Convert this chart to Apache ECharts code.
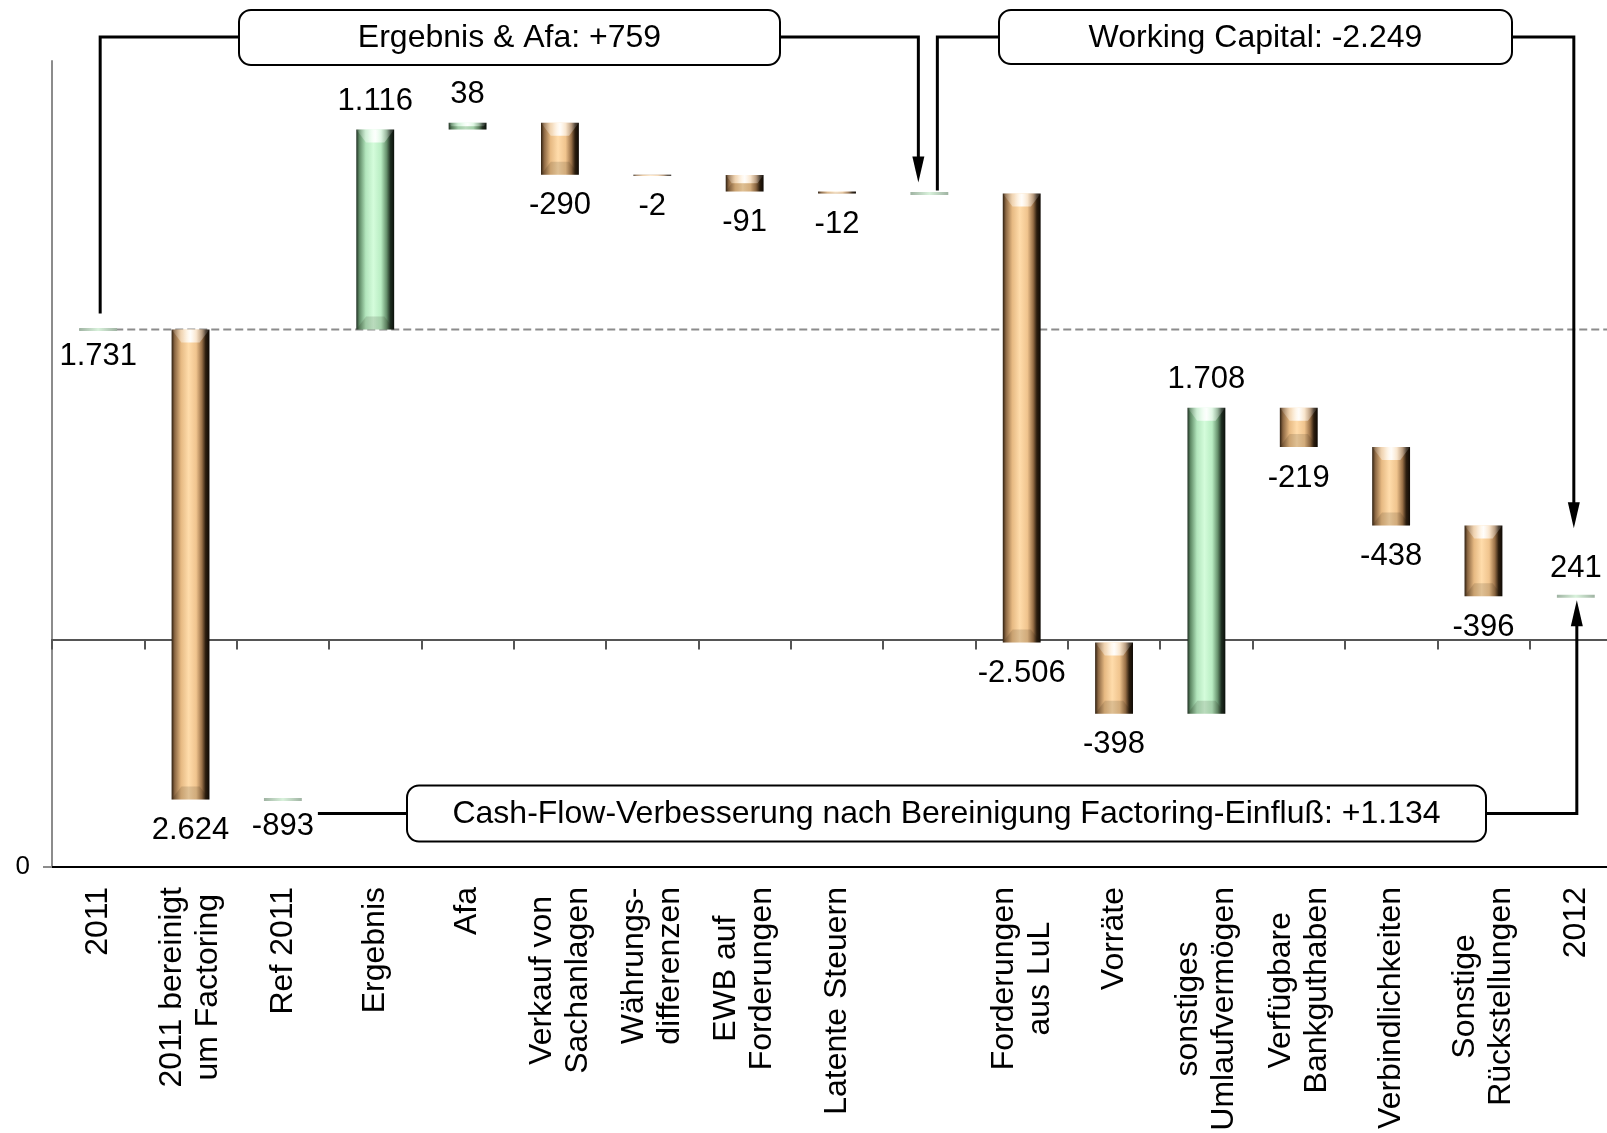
<!DOCTYPE html>
<html>
<head>
<meta charset="utf-8">
<script src="https://cdn.jsdelivr.net/npm/echarts@6/dist/echarts.min.js"></script>
<style>
  html, body { margin: 0; padding: 0; background: #fff; }
  #chart { width: 1607px; height: 1133px; }
</style>
</head>
<body>
<div id="chart"></div>
<script>
// Cash-flow bridge 2011 -> 2012 (values in T€)
const categories = [
  '2011', '2011 bereinigt\num Factoring', 'Ref 2011', 'Ergebnis', 'Afa',
  'Verkauf von\nSachanlagen', 'Währungs-\ndifferenzen', 'EWB auf\nForderungen',
  'Latente Steuern', '', 'Forderungen\naus LuL', 'Vorräte',
  'sonstiges\nUmlaufvermögen', 'Verfügbare\nBankguthaben', 'Verbindlichkeiten',
  'Sonstige\nRückstellungen', '2012'
];
const values = [1731, -2624, -893, 1116, 38, -290, -2, -91, -12, null, -2506, -398, 1708, -219, -438, -396, 241];
// start: opening level, adjust: side adjustment off the opening level,
// total: level marker, step: change carried forward, subtotal: running level marker
const kinds = ['start', 'adjust', 'total', 'step', 'step', 'step', 'step', 'step', 'step', 'subtotal',
  'step', 'step', 'step', 'step', 'step', 'step', 'total'];
const groupTitles = ['Ergebnis & Afa', 'Working Capital', 'Cash-Flow-Verbesserung nach Bereinigung Factoring-Einfluß'];
const groupRanges = [[3, 8], [10, 15]];

const FONT = '"Liberation Sans", Arial, sans-serif';

function fmt(n, plus) {
  const s = Math.abs(n).toString().replace(/\B(?=(\d{3})+(?!\d))/g, '.');
  return (n < 0 ? '-' : (plus ? '+' : '')) + s;
}

// Build the segments of the bridge
const segs = [];
let level = 0;
values.forEach((v, i) => {
  const k = kinds[i];
  if (k === 'start') {
    level = v;
    segs.push({ i, a: v, b: v, marker: true, label: fmt(v), above: false });
  } else if (k === 'adjust') {
    segs.push({ i, a: level, b: level + v, marker: false, up: v > 0, label: fmt(Math.abs(v)), above: v > 0 });
  } else if (k === 'total') {
    segs.push({ i, a: v, b: v, marker: true, label: fmt(v), above: i === values.length - 1 });
  } else if (k === 'step') {
    segs.push({ i, a: level, b: level + v, marker: false, up: v > 0, label: fmt(v), above: v > 0 });
    level += v;
  } else if (k === 'subtotal') {
    segs.push({ i, a: level, b: level, marker: true, label: '', above: false });
  }
});
const subtotalIndex = kinds.indexOf('subtotal');
const subtotalLevel = segs.find(s => s.i === subtotalIndex).a;
const groupSums = groupRanges.map(([f, t]) => values.slice(f, t + 1).reduce((p, c) => p + c, 0));
const endIndex = values.length - 1;
const refIndex = 2;
const cashFlowGain = values[endIndex] - values[refIndex];

const orangeStops = [
  [0, '#2e1f10'], [0.08, '#8a6642'], [0.25, '#e6b982'], [0.45, '#ffdcab'],
  [0.65, '#f0c48e'], [0.8, '#9a7148'], [0.9, '#2c1d0e'], [1, '#0e0904']
];
const greenStops = [
  [0, '#1f2f22'], [0.08, '#5f8a66'], [0.25, '#b3e6bd'], [0.45, '#d4fcdb'],
  [0.65, '#b9edc3'], [0.8, '#66906c'], [0.9, '#1e2e21'], [1, '#0a0f0a']
];
const toGrad = (stops) => new echarts.graphic.LinearGradient(0, 0, 1, 0,
  stops.map(s => ({ offset: s[0], color: s[1] })));

function renderItem(params, api) {
  const s = segs[params.dataIndex];
  const p1 = api.coord([s.i, s.a]);
  const p2 = api.coord([s.i, s.b]);
  const bw = api.size([1, 0])[0] * 0.41;
  const x0 = p1[0] - bw / 2, x1 = p1[0] + bw / 2;
  const yTop = Math.min(p1[1], p2[1]);
  const yBot = Math.max(p1[1], p2[1]);
  const children = [];
  if (s.marker) {
    children.push({
      type: 'rect',
      shape: { x: x0, y: yTop - 1.5, width: bw, height: 3 },
      style: {
        fill: new echarts.graphic.LinearGradient(0, 0, 1, 0, [
          { offset: 0, color: '#9fb3a2' }, { offset: 0.5, color: '#d9f2dc' }, { offset: 1, color: '#9fb3a2' }
        ])
      }
    });
  } else {
    const h = Math.max(yBot - yTop, 1);
    const b = Math.min(13, h / 2);
    const ins = b * 0.75;
    children.push({
      type: 'rect',
      shape: { x: x0, y: yTop, width: bw, height: h },
      style: { fill: toGrad(s.up ? greenStops : orangeStops) }
    });
    // bevelled top face with a bright glare in the middle
    children.push({
      type: 'polygon',
      shape: { points: [[x0, yTop], [x1, yTop], [x1 - ins, yTop + b], [x0 + ins, yTop + b]] },
      style: {
        fill: new echarts.graphic.LinearGradient(0, 0, 1, 0, [
          { offset: 0, color: 'rgba(255,255,255,0.05)' },
          { offset: 0.3, color: 'rgba(255,255,255,0.45)' },
          { offset: 0.5, color: 'rgba(255,255,255,0.95)' },
          { offset: 0.7, color: 'rgba(255,255,255,0.45)' },
          { offset: 1, color: 'rgba(255,255,255,0.05)' }
        ])
      }
    });
    // bevelled bottom face, slightly shaded
    children.push({
      type: 'polygon',
      shape: { points: [[x0, yBot], [x1, yBot], [x1 - ins, yBot - b], [x0 + ins, yBot - b]] },
      style: { fill: 'rgba(30,20,10,0.14)' }
    });
  }
  if (s.label) {
    const off = s.above ? -28 : (s.marker ? 27 : 31);
    children.push({
      type: 'text',
      style: {
        text: s.label,
        x: p1[0],
        y: (s.above ? yTop : yBot) + off,
        align: 'center',
        verticalAlign: 'middle',
        fontSize: 31,
        fontFamily: FONT,
        fill: '#000'
      }
    });
  }
  return { type: 'group', children };
}

const chart = echarts.init(document.getElementById('chart'), null, { renderer: 'canvas' });

const option = {
  backgroundColor: '#fff',
  animation: false,
  grid: { left: 52, right: -15, top: 61, bottom: 266, outerBoundsMode: 'none', containLabel: false },
  xAxis: [
    {
      type: 'category',
      data: categories,
      position: 'bottom',
      axisLine: { onZero: false, lineStyle: { color: '#000', width: 2 } },
      axisTick: { show: false },
      axisLabel: {
        interval: 0,
        rotate: 90,
        margin: 20,
        color: '#000',
        fontSize: 32,
        fontFamily: FONT,
        lineHeight: 36,
        formatter: (v) => v.split('\n').map(l => '{c|' + l + '}').join('\n'),
        rich: { c: { fontSize: 32, fontFamily: FONT, lineHeight: 36, align: 'center', color: '#000' } }
      },
      splitLine: { show: false }
    },
    {
      type: 'category',
      data: categories,
      position: 'top',
      axisLine: { onZero: true, onZeroAxisIndex: 1, lineStyle: { color: '#555', width: 2 } },
      axisTick: { show: true, inside: true, length: 10, interval: 0, lineStyle: { color: '#555', width: 2 } },
      axisLabel: { show: false },
      splitLine: { show: false }
    }
  ],
  yAxis: [
    {
      type: 'value',
      min: 0,
      max: 1,
      position: 'left',
      axisLine: { show: true, lineStyle: { color: '#8c8c8c', width: 2 } },
      axisTick: { show: true, length: 9, customValues: [0], lineStyle: { color: '#8c8c8c', width: 2 } },
      axisLabel: { customValues: [0], margin: 22, fontSize: 26, fontFamily: FONT, color: '#000' },
      splitLine: { show: false }
    },
    {
      type: 'value',
      min: -1270,
      max: 3230,
      show: false,
      splitLine: { show: false }
    }
  ],
  series: [
    {
      type: 'custom',
      xAxisIndex: 0,
      yAxisIndex: 1,
      renderItem,
      encode: { x: 0, y: [1, 2] },
      data: segs.map(s => [s.i, s.a, s.b]),
      z: 3
    }
  ]
};
chart.setOption(option);

// Annotation brackets
const px = (i, v) => chart.convertToPixel({ xAxisIndex: 0, yAxisIndex: 1 }, [i, v]);
const bwPx = (px(1, 0)[0] - px(0, 0)[0]) * 0.41;
const LW = 3;
const poly = (pts) => ({ type: 'polyline', z: 20, shape: { points: pts }, style: { stroke: '#000', lineWidth: LW, fill: null } });
const arrow = (x, tipY, dir) => ({
  type: 'polygon', z: 21,
  shape: { points: [[x - 6, tipY - dir * 26], [x + 6, tipY - dir * 26], [x, tipY]] },
  style: { fill: '#000' }
});
const box = (x, y, w, h, text) => [
  { type: 'rect', z: 22, shape: { x, y, width: w, height: h, r: 12 }, style: { fill: '#fff', stroke: '#000', lineWidth: 2 } },
  { type: 'text', z: 23, style: { text, x: x + w / 2, y: y + h / 2 + 1, align: 'center', verticalAlign: 'middle', fontSize: 32, fontFamily: FONT, fill: '#000' } }
];

const startPt = px(0, values[0]);
const subPt = px(subtotalIndex, subtotalLevel);
const endPt = px(endIndex, values[endIndex]);
const refPt = px(refIndex, values[refIndex]);
const topY = 37;
const b1 = { x: 239, y: 10, w: 541, h: 55 };
const b2 = { x: 999, y: 10, w: 513, h: 54 };
const b3 = { x: 407, y: refPt[1] - 14, w: 1079, h: 56 };
const lowY = b3.y + b3.h / 2;

const xa = subPt[0] - 11, xb = subPt[0] + 8;
const tip2 = subPt[1] - 11;
const x4 = endPt[0] - 2, tip4 = endPt[1] - 68;
const x6 = endPt[0] + 1, tip6 = endPt[1] + 4;

const graphic = [
  { type: 'line', z: 1, shape: { x1: startPt[0] - bwPx / 2, y1: startPt[1], x2: 1607, y2: startPt[1] },
    style: { stroke: '#8c8c8c', lineWidth: 2, lineDash: [8, 4] } },
  poly([[startPt[0] + 2, startPt[1] - 16], [startPt[0] + 2, topY], [b1.x, topY]]),
  poly([[b1.x + b1.w, topY], [xa, topY], [xa, tip2 - 20]]),
  arrow(xa, tip2, 1),
  poly([[xb, subPt[1] - 3], [xb, topY], [b2.x, topY]]),
  poly([[b2.x + b2.w, topY], [x4, topY], [x4, tip4 - 20]]),
  arrow(x4, tip4, 1),
  poly([[refPt[0] + 35, lowY], [b3.x, lowY]]),
  poly([[b3.x + b3.w, lowY], [x6, lowY], [x6, tip6 + 20]]),
  arrow(x6, tip6, -1)
].concat(
  box(b1.x, b1.y, b1.w, b1.h, groupTitles[0] + ': ' + fmt(groupSums[0], true)),
  box(b2.x, b2.y, b2.w, b2.h, groupTitles[1] + ': ' + fmt(groupSums[1], true)),
  box(b3.x, b3.y, b3.w, b3.h, groupTitles[2] + ': ' + fmt(cashFlowGain, true))
);
chart.setOption({ graphic: { elements: graphic } });
</script>
</body>
</html>
